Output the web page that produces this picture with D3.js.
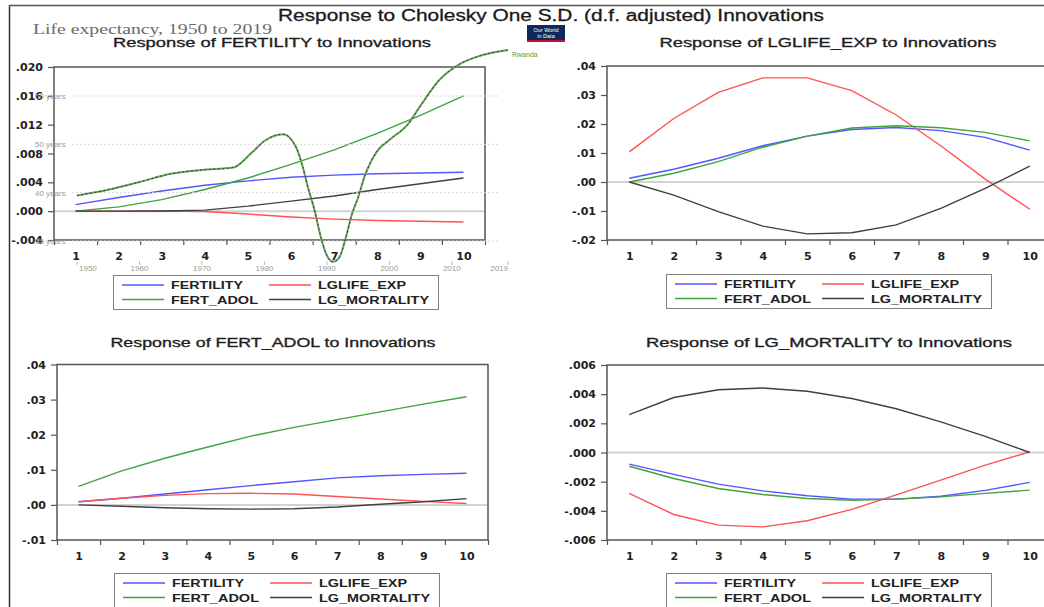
<!DOCTYPE html>
<html>
<head>
<meta charset="utf-8">
<script src="https://cdn.jsdelivr.net/npm/d3@7"></script>
<style>
  body { margin: 0; background: #fff; }
  svg { display: block; font-family: "Liberation Sans", Arial, sans-serif; }
</style>
</head>
<body>
<div class="canvas"></div>
<script>
const periods = [1, 2, 3, 4, 5, 6, 7, 8, 9, 10];
const seriesNames = ["FERTILITY", "LGLIFE_EXP", "FERT_ADOL", "LG_MORTALITY"];
const seriesColors = ["#5555ff", "#ff5252", "#3fa33f", "#404040"];

// Response of FERTILITY
const fertOnFertility = [0.0009, 0.0019, 0.0028, 0.0036, 0.0042, 0.0047, 0.0050, 0.0052, 0.0053, 0.0054];
const fertOnLife = [0, 0, 0.00002, -0.00005, -0.0004, -0.0008, -0.0011, -0.0013, -0.0014, -0.0015];
const fertOnAdol = [0, 0.0006, 0.0016, 0.003, 0.0046, 0.0065, 0.0085, 0.0108, 0.0133, 0.016];
const fertOnMort = [0, 0, 0.00003, 0.00015, 0.0007, 0.0014, 0.0021, 0.003, 0.0038, 0.0046];

// Response of LGLIFE_EXP
const lifeOnFertility = [0.0013, 0.0044, 0.0082, 0.0125, 0.0158, 0.0181, 0.0188, 0.0177, 0.0154, 0.011];
const lifeOnLife = [0.0104, 0.0219, 0.0309, 0.0359, 0.0359, 0.0315, 0.0231, 0.0125, 0.001, -0.0094];
const lifeOnAdol = [0, 0.003, 0.007, 0.012, 0.0158, 0.0186, 0.0194, 0.0187, 0.0171, 0.0142];
const lifeOnMort = [0, -0.0045, -0.0102, -0.0152, -0.0179, -0.0175, -0.0148, -0.0091, -0.0022, 0.0055];

// Response of FERT_ADOL
const adolOnFertility = [0.0009, 0.0019, 0.0031, 0.0043, 0.0055, 0.0066, 0.0077, 0.0083, 0.0087, 0.009];
const adolOnLife = [0.0009, 0.0019, 0.0027, 0.0032, 0.0033, 0.0031, 0.0024, 0.0017, 0.001, 0.0004];
const adolOnAdol = [0.0053, 0.0097, 0.0133, 0.0165, 0.0196, 0.0221, 0.0243, 0.0265, 0.0287, 0.0308];
const adolOnMort = [0, -0.0004, -0.0008, -0.0011, -0.0012, -0.0011, -0.0006, 0.0002, 0.0009, 0.0018];

// Response of LG_MORTALITY
const mortOnFertility = [-0.0008, -0.0015, -0.00217, -0.00263, -0.00297, -0.0032, -0.0032, -0.003, -0.0026, -0.00205];
const mortOnLife = [-0.0028, -0.00425, -0.00498, -0.0051, -0.00468, -0.0039, -0.0029, -0.0019, -0.00087, 0.00005];
const mortOnAdol = [-0.00094, -0.00178, -0.00247, -0.00288, -0.00315, -0.00327, -0.0032, -0.00304, -0.0028, -0.00258];
const mortOnMort = [0.0026, 0.00377, 0.0043, 0.00442, 0.0042, 0.0037, 0.003, 0.0021, 0.0011, 0];

const fertTicks = [-0.004, 0, 0.004, 0.008, 0.012, 0.016, 0.02];
const lifeTicks = [-0.02, -0.01, 0, 0.01, 0.02, 0.03, 0.04];
const adolTicks = [-0.01, 0, 0.01, 0.02, 0.03, 0.04];
const mortTicks = [-0.006, -0.004, -0.002, 0, 0.002, 0.004, 0.006];

// Our World in Data overlay: Rwanda life expectancy
const owidYears = [1950, 1955, 1960, 1965, 1970, 1975, 1978, 1980, 1983, 1985, 1986, 1987, 1988, 1989, 1990,
  1991, 1992, 1993, 1994, 1995, 1996, 1998, 2000, 2003, 2005, 2008, 2011, 2014, 2019];
const rwandaLife = [39.4, 40.6, 42.2, 43.9, 44.7, 45.2, 48.3, 50.7, 52.1, 49.6, 46.0, 41.0, 36.5, 31.0, 27.0,
  25.7, 26.6, 30.5, 35.5, 39.0, 43.2, 48.5, 50.9, 54.2, 58.0, 63.3, 66.4, 68.1, 69.5];
const owidYearTicks = [1950, 1960, 1970, 1980, 1990, 2000, 2010, 2019];
const owidLifeTicks = [30, 40, 50, 60];

const W = 1044, H = 607;
const tickFont = "'DejaVu Sans', Verdana, sans-serif";

const svg = d3.select(".canvas").append("svg").attr("width", W).attr("height", H);

// outer frame
svg.append("line").attr("x1", 9.5).attr("x2", 9.5).attr("y1", 5).attr("y2", H)
  .attr("stroke", "#333").attr("stroke-width", 1.5);
svg.append("line").attr("x1", 9).attr("x2", W).attr("y1", 5.5).attr("y2", 5.5)
  .attr("stroke", "#555").attr("stroke-width", 1.5);

svg.append("text")
  .attr("x", 551).attr("y", 21)
  .attr("text-anchor", "middle")
  .attr("font-size", 16)
  .attr("fill", "#1a1a1a")
  .attr("stroke", "#1a1a1a").attr("stroke-width", 0.3)
  .attr("textLength", 546).attr("lengthAdjust", "spacingAndGlyphs")
  .text("Response to Cholesky One S.D. (d.f. adjusted) Innovations");

const eviewsFmt = (dec) => (v) => v.toFixed(dec).replace(/^(-?)0\./, "$1.");

const panels = [
  { title: "Response of FERTILITY to Innovations", series: [fertOnFertility, fertOnLife, fertOnAdol, fertOnMort],
    ticks: fertTicks, dec: 3, left: 54, right: 485, top: 67, bottom: 240,
    titleX: 272, titleY: 47, titleLen: 318, legendX: 113, legendY: 275 },
  { title: "Response of LGLIFE_EXP to Innovations", series: [lifeOnFertility, lifeOnLife, lifeOnAdol, lifeOnMort],
    ticks: lifeTicks, dec: 2, left: 607, right: 1052, top: 66, bottom: 240,
    titleX: 828, titleY: 47, titleLen: 337, legendX: 666, legendY: 274 },
  { title: "Response of FERT_ADOL to Innovations", series: [adolOnFertility, adolOnLife, adolOnAdol, adolOnMort],
    ticks: adolTicks, dec: 2, left: 57, right: 488, top: 364.5, bottom: 540,
    titleX: 273, titleY: 347, titleLen: 325, legendX: 114, legendY: 573 },
  { title: "Response of LG_MORTALITY to Innovations", series: [mortOnFertility, mortOnLife, mortOnAdol, mortOnMort],
    ticks: mortTicks, dec: 3, left: 607, right: 1052, top: 365, bottom: 540,
    titleX: 829, titleY: 347, titleLen: 366, legendX: 666, legendY: 573 }
];

const legendTextLen = [72, 88, 87, 111];

panels.forEach(drawPanel);
drawOwidOverlay();

function drawPanel(p) {
  const x = d3.scaleLinear().domain([0.5, 10.5]).range([p.left, p.right]);
  const y = d3.scaleLinear().domain(d3.extent(p.ticks)).range([p.bottom, p.top]);
  const g = svg.append("g");

  g.append("text")
    .attr("x", p.titleX).attr("y", p.titleY)
    .attr("text-anchor", "middle")
    .attr("font-size", 13.5)
    .attr("fill", "#1e1e1e")
    .attr("stroke", "#1e1e1e").attr("stroke-width", 0.35)
    .attr("textLength", p.titleLen).attr("lengthAdjust", "spacingAndGlyphs")
    .text(p.title);

  // zero line
  g.append("line")
    .attr("x1", p.left).attr("x2", Math.min(p.right, W))
    .attr("y1", y(0)).attr("y2", y(0))
    .attr("stroke", "#d2d2d2").attr("stroke-width", 2);

  const yAxis = g.append("g")
    .attr("transform", `translate(${p.left},0)`)
    .call(d3.axisLeft(y).tickValues(p.ticks).tickSize(6).tickPadding(5).tickFormat(eviewsFmt(p.dec)));

  const xTicks = g.append("g")
    .attr("transform", `translate(0,${p.bottom})`)
    .call(d3.axisBottom(x).tickValues(d3.range(0.5, 10.6, 1)).tickSize(5).tickFormat(""));

  const xLabels = g.append("g")
    .attr("transform", `translate(0,${p.bottom})`)
    .call(d3.axisBottom(x).tickValues(periods).tickSize(0).tickPadding(12).tickFormat(d3.format("d")));

  [yAxis, xTicks, xLabels].forEach((a) => {
    a.select(".domain").remove();
    a.selectAll(".tick line").attr("stroke", "#555").attr("stroke-width", 1.2);
    a.selectAll("text")
      .attr("font-family", tickFont)
      .attr("font-weight", "bold")
      .attr("font-size", 11)
      .attr("fill", "#222");
  });

  g.append("rect")
    .attr("x", p.left).attr("y", p.top)
    .attr("width", p.right - p.left).attr("height", p.bottom - p.top)
    .attr("fill", "none").attr("stroke", "#555").attr("stroke-width", 1.5);

  const line = d3.line().x((d, i) => x(periods[i])).y((d) => y(d));
  p.series.forEach((s, k) => {
    g.append("path")
      .datum(s)
      .attr("d", line)
      .attr("fill", "none")
      .attr("stroke", seriesColors[k])
      .attr("stroke-width", 1.4);
  });

  // legend
  const lg = g.append("g").attr("transform", `translate(${p.legendX},${p.legendY})`);
  lg.append("rect")
    .attr("x", 0.5).attr("y", 0.5).attr("width", 325).attr("height", 34)
    .attr("fill", "#fff").attr("stroke", "#808080").attr("stroke-width", 1);
  seriesNames.forEach((name, k) => {
    const cx = (k % 2) * 147;
    const cy = k < 2 ? 10 : 24.5;
    lg.append("line")
      .attr("x1", cx + 9).attr("x2", cx + 51).attr("y1", cy).attr("y2", cy)
      .attr("stroke", seriesColors[k]).attr("stroke-width", 1.4);
    lg.append("text")
      .attr("x", cx + 58).attr("y", cy + 4)
      .attr("font-size", 11)
      .attr("font-weight", "bold")
      .attr("fill", "#222")
      .attr("textLength", legendTextLen[k]).attr("lengthAdjust", "spacingAndGlyphs")
      .text(name);
  });
}

function drawOwidOverlay() {
  const x = d3.scaleLinear().domain([1950, 2019]).range([77, 508]);
  const y = d3.scaleLinear().domain([30, 60]).range([241, 96]);
  const g = svg.append("g");

  g.append("text")
    .attr("x", 33).attr("y", 34)
    .attr("font-family", "'Liberation Serif', 'DejaVu Serif', serif")
    .attr("font-size", 14.5)
    .attr("fill", "#6a6a6a")
    .attr("textLength", 239).attr("lengthAdjust", "spacingAndGlyphs")
    .text("Life expectancy, 1950 to 2019");

  owidLifeTicks.forEach((v) => {
    g.append("line")
      .attr("x1", 72).attr("x2", 500).attr("y1", y(v)).attr("y2", y(v))
      .attr("stroke", "#d8d8d8").attr("stroke-width", 1).attr("stroke-dasharray", "2,2");
    g.append("text")
      .attr("x", 35).attr("y", y(v) + 3)
      .attr("font-size", 8).attr("fill", "#9a9a9a")
      .text(v + " years");
  });

  owidYearTicks.forEach((yr, i) => {
    g.append("line")
      .attr("x1", x(yr)).attr("x2", x(yr)).attr("y1", 261).attr("y2", 265)
      .attr("stroke", "#bbb");
    g.append("text")
      .attr("x", i === 0 ? x(yr) + 2 : x(yr))
      .attr("y", 271)
      .attr("text-anchor", i === 0 ? "start" : i === owidYearTicks.length - 1 ? "end" : "middle")
      .attr("font-size", 8).attr("fill", "#9a9a9a")
      .text(yr);
  });

  const line = d3.line()
    .x((d, i) => x(owidYears[i]))
    .y((d) => y(d))
    .curve(d3.curveMonotoneX);

  g.append("path").datum(rwandaLife).attr("d", line)
    .attr("fill", "none").attr("stroke", "#6aa05f").attr("stroke-width", 2);
  g.append("path").datum(rwandaLife).attr("d", line)
    .attr("fill", "none").attr("stroke", "#2a2a2a").attr("stroke-width", 1)
    .attr("stroke-dasharray", "1.5,3");

  g.append("text")
    .attr("x", 512).attr("y", 57)
    .attr("font-size", 7).attr("fill", "#4e9a4e")
    .text("Rwanda");

  // logo
  const logo = g.append("g").attr("transform", "translate(527,25)");
  logo.append("rect").attr("width", 38).attr("height", 17).attr("fill", "#0f2a5a");
  logo.append("rect").attr("y", 15).attr("width", 38).attr("height", 2).attr("fill", "#c8102e");
  logo.append("text").attr("x", 19).attr("y", 7).attr("text-anchor", "middle")
    .attr("font-size", 5.5).attr("fill", "#fff").text("Our World");
  logo.append("text").attr("x", 19).attr("y", 13).attr("text-anchor", "middle")
    .attr("font-size", 5.5).attr("fill", "#fff").text("in Data");
}
</script>
</body>
</html>
